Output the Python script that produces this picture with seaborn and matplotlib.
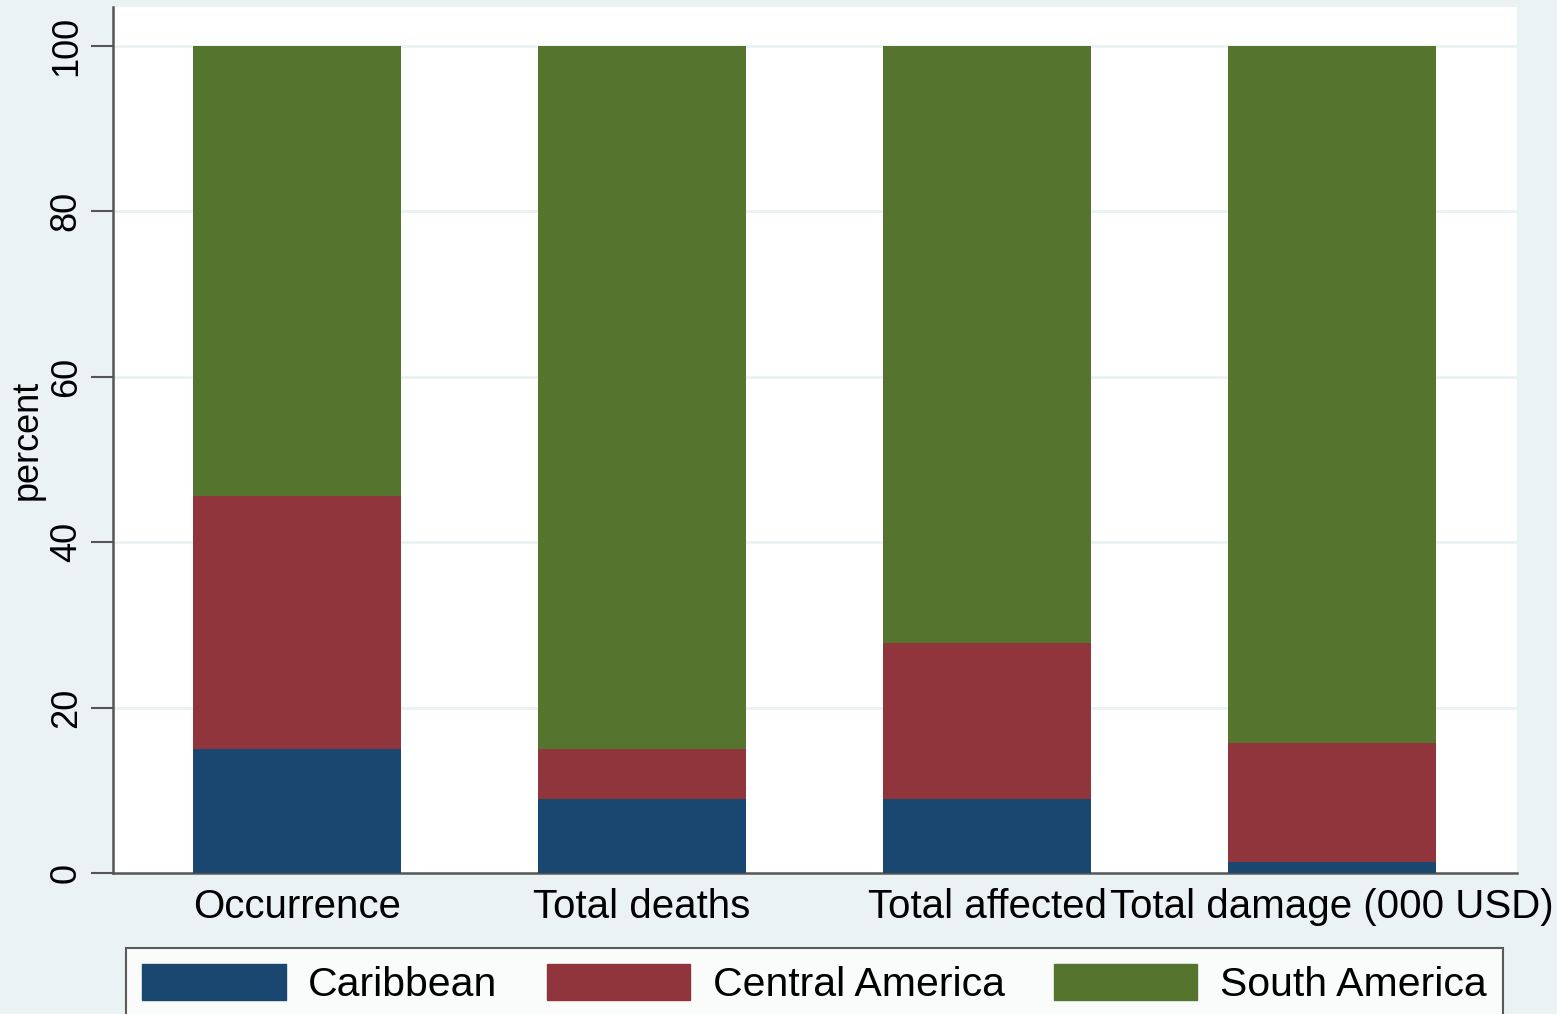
import pandas as pd
import matplotlib.pyplot as plt
import seaborn as sns
from matplotlib.patches import Patch

# ----------------------------------------
# Data (percent shares)
# ----------------------------------------
measures = ["Occurrence", "Total deaths", "Total affected", "Total damage (000 USD)"]
caribbean = [15.0, 9.0, 9.0, 1.3]
central_america = [30.6, 6.0, 18.8, 14.4]
south_america = [54.4, 85.0, 72.2, 84.3]
regions = ["Caribbean", "Central America", "South America"]
region_colors = ["#1a476f", "#90353b", "#55752f"]
yticks = [0, 20, 40, 60, 80, 100]

# ----------------------------------------
# Stack: cumulative tops, drawn back to front
# ----------------------------------------
df = pd.DataFrame({
    "measure": measures,
    "Caribbean": caribbean,
    "Central America": central_america,
    "South America": south_america,
})
df["top_car"] = df["Caribbean"]
df["top_cen"] = df["top_car"] + df["Central America"]
df["top_sou"] = df["top_cen"] + df["South America"]

sns.set_style("white")
plt.rcParams["font.family"] = ["Liberation Sans", "DejaVu Sans"]
plt.rcParams["text.color"] = "black"
plt.rcParams["xtick.color"] = "black"
plt.rcParams["ytick.color"] = "black"
plt.rcParams["axes.labelcolor"] = "black"

bg = "#eaf2f3"
fig = plt.figure(figsize=(15.57, 10.14), dpi=100, facecolor=bg)
ax = fig.add_axes([113 / 1557, 1 - 873 / 1014, (1517 - 113) / 1557, (873 - 7) / 1014])
ax.set_facecolor("white")

for col, color in zip(["top_sou", "top_cen", "top_car"], region_colors[::-1]):
    sns.barplot(data=df, x="measure", y=col, color=color, saturation=1,
                width=0.603, linewidth=0, ax=ax, zorder=3)

ax.set_xlim(-0.533, 3.536)
ax.set_ylim(0, 104.7)
ax.set_yticks(yticks)
ax.set_yticklabels([str(t) for t in yticks], rotation=90, va="center", fontsize=26)
ax.tick_params(axis="y", direction="out", length=16, width=1.5, color="#555555",
               labelcolor="black", pad=5, left=True)
ax.tick_params(axis="x", length=0, pad=11, labelsize=29, labelcolor="black")
for t in yticks[1:]:
    ax.axhline(t, color=bg, linewidth=2, zorder=1)

ax.set_xlabel("")
ax.set_ylabel("percent", fontsize=26, color="black")
ax.yaxis.set_label_coords(-0.0484, 0.5)

for side in ["top", "right"]:
    ax.spines[side].set_visible(False)
for side in ["left", "bottom"]:
    ax.spines[side].set_color("#555555")
    ax.spines[side].set_linewidth(1.8)

# ----------------------------------------
# Legend below the plot
# ----------------------------------------
handles = [Patch(facecolor=c, edgecolor=c) for c in region_colors]
leg = fig.legend(handles, regions, loc="upper left", ncol=3, mode="expand",
                 bbox_to_anchor=(126 / 1557, 0, (1503 - 126) / 1557, 1 - 948 / 1014),
                 fontsize=29.5, handlelength=3.5, handleheight=0.95, handletextpad=0.55,
                 fancybox=False, frameon=True, borderpad=0.4, borderaxespad=0)
leg.get_frame().set_edgecolor("#333333")
leg.get_frame().set_linewidth(1.5)

plt.savefig("out.png", dpi=100, facecolor=bg)
